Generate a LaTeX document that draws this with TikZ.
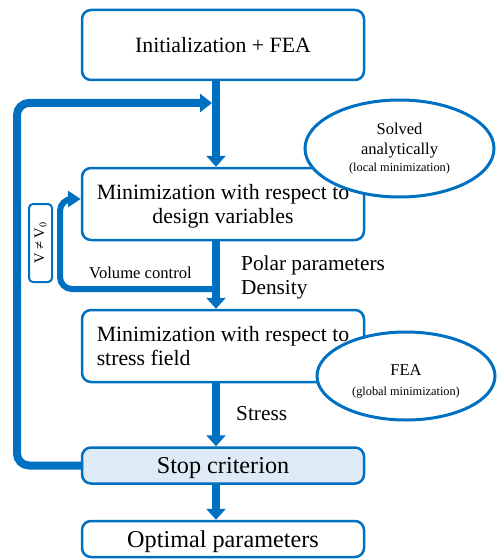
\documentclass[tikz,border=0pt]{standalone}
\usepackage{fontspec}
\setmainfont{Liberation Serif}
\usetikzlibrary{shapes.geometric, arrows.meta, positioning, calc}
\definecolor{flowblue}{RGB}{0, 112, 192}
\definecolor{stopfill}{RGB}{222, 235, 247}

\begin{document}
\begin{tikzpicture}[
    x=1pt, y=-1pt,
    box/.style={draw=flowblue, line width=2.5pt, rounded corners=9pt, fill=white, minimum width=282pt, align=center, inner sep=0pt, text depth=0pt},
    bubble/.style={draw=flowblue, line width=3pt, ellipse, fill=white, align=center, inner sep=0pt, font=\fontsize{16.5}{20}\selectfont},
    flow/.style={-{Triangle[width=19pt, length=11pt]}, draw=flowblue, line width=8pt},
    loop/.style={draw=flowblue, rounded corners=12pt},
    boxfont/.style={font=\fontsize{21.8}{24}\selectfont},
    bigfont/.style={font=\fontsize{24.2}{28}\selectfont},
    label/.style={inner sep=0pt, anchor=west, align=left, font=\fontsize{21.3}{24}\selectfont}
]
    \useasboundingbox (0,0) rectangle (496,559);

    % Initialization
    \node[box, minimum height=70pt, boxfont] (init) at (223,45) {Initialization + FEA};

    % Design variables
    \node[box, minimum height=72pt, boxfont] (design) at (223,204) {Minimization with respect to\\design variables};

    % Stress field
    \node[box, minimum height=72pt, boxfont, align=left] (stressbox) at (223,346) {Minimization with respect to\\stress field};

    % Stop criterion
    \node[box, minimum height=36pt, fill=stopfill, bigfont] (stop) at (223,465.5) {Stop criterion};

    % Optimal parameters
    \node[box, minimum height=36pt, bigfont] (optimal) at (223,539) {Optimal parameters};

    % Loops
    \coordinate (col) at (216,0);
    \coordinate (fbcorner) at (17,103);
    \coordinate (fbend) at (212,103);
    \coordinate (vstart) at (216,289);
    \coordinate (vcorner) at (60,199);
    \draw[loop, line width=8pt, -{Triangle[width=18pt, length=12pt]}] (stop.west) -| (fbcorner) -- (fbend);
    \draw[loop, line width=6pt, -{Triangle[width=16pt, length=13pt]}] (vstart) -| (vcorner) -- (vcorner -| design.west);

    % Arrows
    \draw[flow] (init.south -| col) -- (design.north -| col);
    \draw[flow] (design.south -| col) -- (stressbox.north -| col);
    \draw[flow] (stressbox.south -| col) -- (stop.north -| col);
    \draw[flow] (stop.south -| col) -- (optimal.north -| col);

    % Volume condition
    \node[draw=flowblue, line width=2pt, rounded corners=4pt, rotate=90, minimum width=78pt, minimum height=23pt, inner sep=0pt, font=\fontsize{14.5}{16}\selectfont] (vcond) at (40.5,243) {V ≠ V\textsubscript{0}};

    % Labels
    \node[label, font=\fontsize{16.6}{18}\selectfont] (vollabel) at (89,273) {Volume control};
    \node[label] (polar) at (241,277) {Polar parameters\\Density};
    \node[label] (stresslabel) at (236,414) {Stress};

    % Solvers
    \node[bubble, minimum width=189pt, minimum height=97pt] (solved) at (399.5,148.5) {Solved\\analytically\\[-3pt]{\fontsize{12.3}{14}\selectfont (local minimization)}};
    \node[bubble, minimum width=178pt, minimum height=88pt] (fea) at (406,376) {\raisebox{0pt}[22pt][0pt]{FEA}\\{\fontsize{12.3}{14}\selectfont (global minimization)}};
\end{tikzpicture}
\end{document}
